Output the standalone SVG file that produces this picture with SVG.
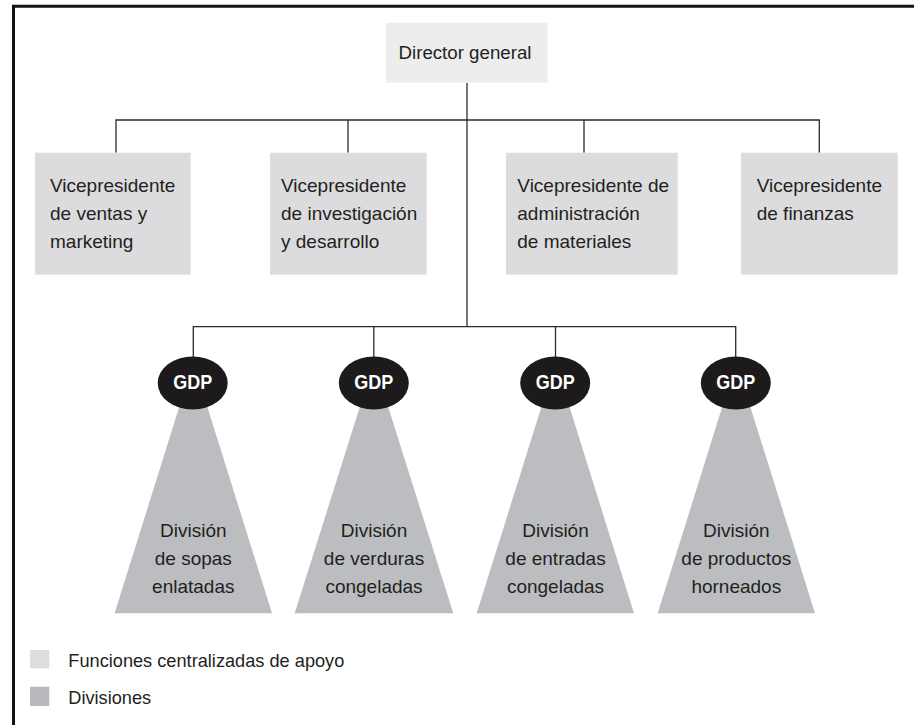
<svg xmlns="http://www.w3.org/2000/svg" width="914" height="725" viewBox="0 0 914 725">
<style>
  .t { font-family: "Liberation Sans", Arial, sans-serif; font-size: 19px; fill: #231f20; }
  .c { text-anchor: middle; }
  .vp { fill: #dcdcde; }
  .tri { fill: #bcbdc0; }
  .gdp { fill: #1c1a1b; }
  .gt { font-family: "Liberation Sans", Arial, sans-serif; font-size: 21px; font-weight: bold; fill: #ffffff; text-anchor: middle; }
  .ln { stroke: #2b2b2b; stroke-width: 1.3; fill: none; }
  .lg { font-family: "Liberation Sans", Arial, sans-serif; font-size: 18.2px; fill: #231f20; }
</style>
<rect x="0" y="0" width="914" height="725" fill="#ffffff"/>
<!-- frame -->
<path d="M13.5 725 V6.3 H914" stroke="#111" stroke-width="3" fill="none"/>

<!-- connectors -->
<g id="connectors" class="ln">
  <path d="M467 82.7 V326.7"/>
  <path d="M116 152.7 V120 H819.3 V152.7"/>
  <path d="M348 120 V152.7"/>
  <path d="M584 120 V152.7"/>
  <path d="M193.3 357 V326.7 H735.7 V357"/>
  <path d="M373.8 326.7 V357"/>
  <path d="M555.5 326.7 V357"/>
</g>

<g id="director">
  <rect x="386" y="22.7" width="161.7" height="60" fill="#ededed"/>
  <text class="t c" x="465" y="59.3" style="font-size:18.7px">Director general</text>
</g>

<g id="vp-ventas">
  <rect class="vp" x="35" y="152.7" width="155.7" height="122"/>
  <text class="t" x="50" y="191.5">Vicepresidente</text>
  <text class="t" x="50" y="219.5">de ventas y</text>
  <text class="t" x="50" y="247.5">marketing</text>
</g>
<g id="vp-investigacion">
  <rect class="vp" x="270" y="152.7" width="156.7" height="122"/>
  <text class="t" x="281" y="191.5">Vicepresidente</text>
  <text class="t" x="281" y="219.5">de investigación</text>
  <text class="t" x="281" y="247.5">y desarrollo</text>
</g>
<g id="vp-materiales">
  <rect class="vp" x="506" y="152.7" width="171.7" height="122"/>
  <text class="t" x="517.3" y="191.5">Vicepresidente de</text>
  <text class="t" x="517.3" y="219.5">administración</text>
  <text class="t" x="517.3" y="247.5">de materiales</text>
</g>
<g id="vp-finanzas">
  <rect class="vp" x="741" y="152.7" width="156.7" height="122"/>
  <text class="t" x="756.7" y="191.5">Vicepresidente</text>
  <text class="t" x="756.7" y="219.5">de finanzas</text>
</g>

<g id="div-sopas">
  <polygon class="tri" points="193.3,362 272,613.3 114.6,613.3"/>
  <ellipse class="gdp" cx="192.7" cy="383" rx="35" ry="26.6"/>
  <text class="gt" x="192.7" y="389" textLength="39" lengthAdjust="spacingAndGlyphs">GDP</text>
  <text class="t c" x="193.3" y="536.7">División</text>
  <text class="t c" x="193.3" y="565">de sopas</text>
  <text class="t c" x="193.3" y="593.3">enlatadas</text>
</g>
<g id="div-verduras">
  <polygon class="tri" points="374,362 453.3,613.3 294.7,613.3"/>
  <ellipse class="gdp" cx="373.8" cy="383" rx="35" ry="26.6"/>
  <text class="gt" x="373.8" y="389" textLength="39" lengthAdjust="spacingAndGlyphs">GDP</text>
  <text class="t c" x="374" y="536.7">División</text>
  <text class="t c" x="374" y="565">de verduras</text>
  <text class="t c" x="374" y="593.3">congeladas</text>
</g>
<g id="div-entradas">
  <polygon class="tri" points="555.5,362 634,613.3 476.7,613.3"/>
  <ellipse class="gdp" cx="555.2" cy="383" rx="35" ry="26.6"/>
  <text class="gt" x="555.2" y="389" textLength="39" lengthAdjust="spacingAndGlyphs">GDP</text>
  <text class="t c" x="555.5" y="536.7">División</text>
  <text class="t c" x="555.5" y="565">de entradas</text>
  <text class="t c" x="555.5" y="593.3">congeladas</text>
</g>
<g id="div-horneados">
  <polygon class="tri" points="736.3,362 815,613.3 657.7,613.3"/>
  <ellipse class="gdp" cx="735.8" cy="383" rx="35" ry="26.6"/>
  <text class="gt" x="735.8" y="389" textLength="39" lengthAdjust="spacingAndGlyphs">GDP</text>
  <text class="t c" x="736.3" y="536.7">División</text>
  <text class="t c" x="736.3" y="565">de productos</text>
  <text class="t c" x="736.3" y="593.3">horneados</text>
</g>

<g id="legend">
  <rect x="30" y="650" width="19.3" height="18.3" fill="#dcdddf"/>
  <text class="lg" x="68.3" y="666.7">Funciones centralizadas de apoyo</text>
  <rect x="30" y="686.7" width="19.3" height="19.3" fill="#b9babd"/>
  <text class="lg" x="68.3" y="704">Divisiones</text>
</g>
</svg>
